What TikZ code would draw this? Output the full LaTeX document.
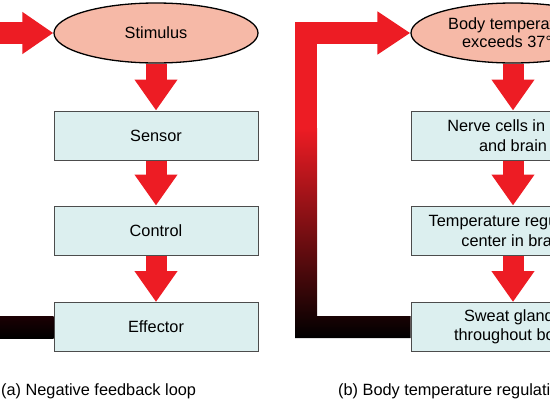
\documentclass[tikz,border=0pt]{standalone}
\usepackage{fontspec}
\setmainfont{Liberation Sans}
\usetikzlibrary{shapes.geometric,arrows.meta,backgrounds}
\definecolor{loopred}{HTML}{ED1C24}
\definecolor{loopdark}{HTML}{8A0010}
\definecolor{stimfill}{HTML}{F6B9A7}
\definecolor{boxfill}{HTML}{DCEFEF}
\begin{document}
\begin{tikzpicture}[x=1pt,y=-1pt,
  stim/.style={ellipse,draw=black,line width=1.3pt,fill=stimfill,minimum width=204pt,minimum height=60pt,inner sep=0pt,align=center,font=\fontsize{16.3}{18}\selectfont},
  box/.style={rectangle,draw=black!70,line width=1pt,fill=boxfill,minimum width=204pt,minimum height=49pt,inner sep=0pt,align=center,font=\fontsize{16.3}{19.5}\selectfont},
  fat/.style={line width=21pt,loopred,-{Triangle[width=41pt,length=31pt]}},
  caption/.style={anchor=base west,inner sep=0pt,font=\fontsize{16.3}{19}\selectfont}]
\useasboundingbox (0,0) rectangle (550,400);
\clip (0,0) rectangle (550,400);
% (a) negative feedback loop
\node[stim] (stim) at (156,33) {Stimulus};
\node[box] (sensor) at (156,135.5) {Sensor};
\node[box] (control) at (156,230.5) {Control};
\node[box] (effector) at (156,327) {Effector};
\coordinate (in) at (0,33);
\coordinate (back) at (0,316);
% (b) body temperature
\node[stim] (body) at (513,33) {Body temperature\\exceeds 37°C};
\node[box] (nerve) at (513,135.5) {Nerve cells in skin\\and brain};
\node[box] (center) at (513,230.5) {Temperature regulatory\\center in brain};
\node[box] (sweat) at (513,327) {Sweat glands\\throughout body};
\coordinate (fade) at (306,128);
\begin{pgfonlayer}{background}
\draw[fat,line width=22pt,-{Triangle[width=40pt,length=31pt]}] (in) -- (stim.west);
\draw[fat] (stim) -- (sensor);
\draw[fat] (sensor) -- (control);
\draw[fat] (control) -- (effector);
\shade[top color=black!80!loopdark,bottom color=black] (back) rectangle ([yshift=-11pt]effector.west);
\draw[fat] (body) -- (nerve);
\draw[fat] (nerve) -- (center);
\draw[fat] (center) -- (sweat);
\draw[loopred,line width=22pt,-{Triangle[width=41pt,length=33pt]}] (fade) |- (body.west);
\shade[top color=loopred,middle color=loopdark,bottom color=black] ([xshift=-11pt]fade) -- ([xshift=11pt]fade) |- ([yshift=11pt]sweat.west) -- ([yshift=-11pt]sweat.west) -| ([xshift=-11pt]fade) -- cycle;
\end{pgfonlayer}
\node[caption] (capa) at (1,395) {(a) Negative feedback loop};
\node[caption] (capb) at (338,395) {(b) Body temperature regulation};
\end{tikzpicture}
\end{document}
